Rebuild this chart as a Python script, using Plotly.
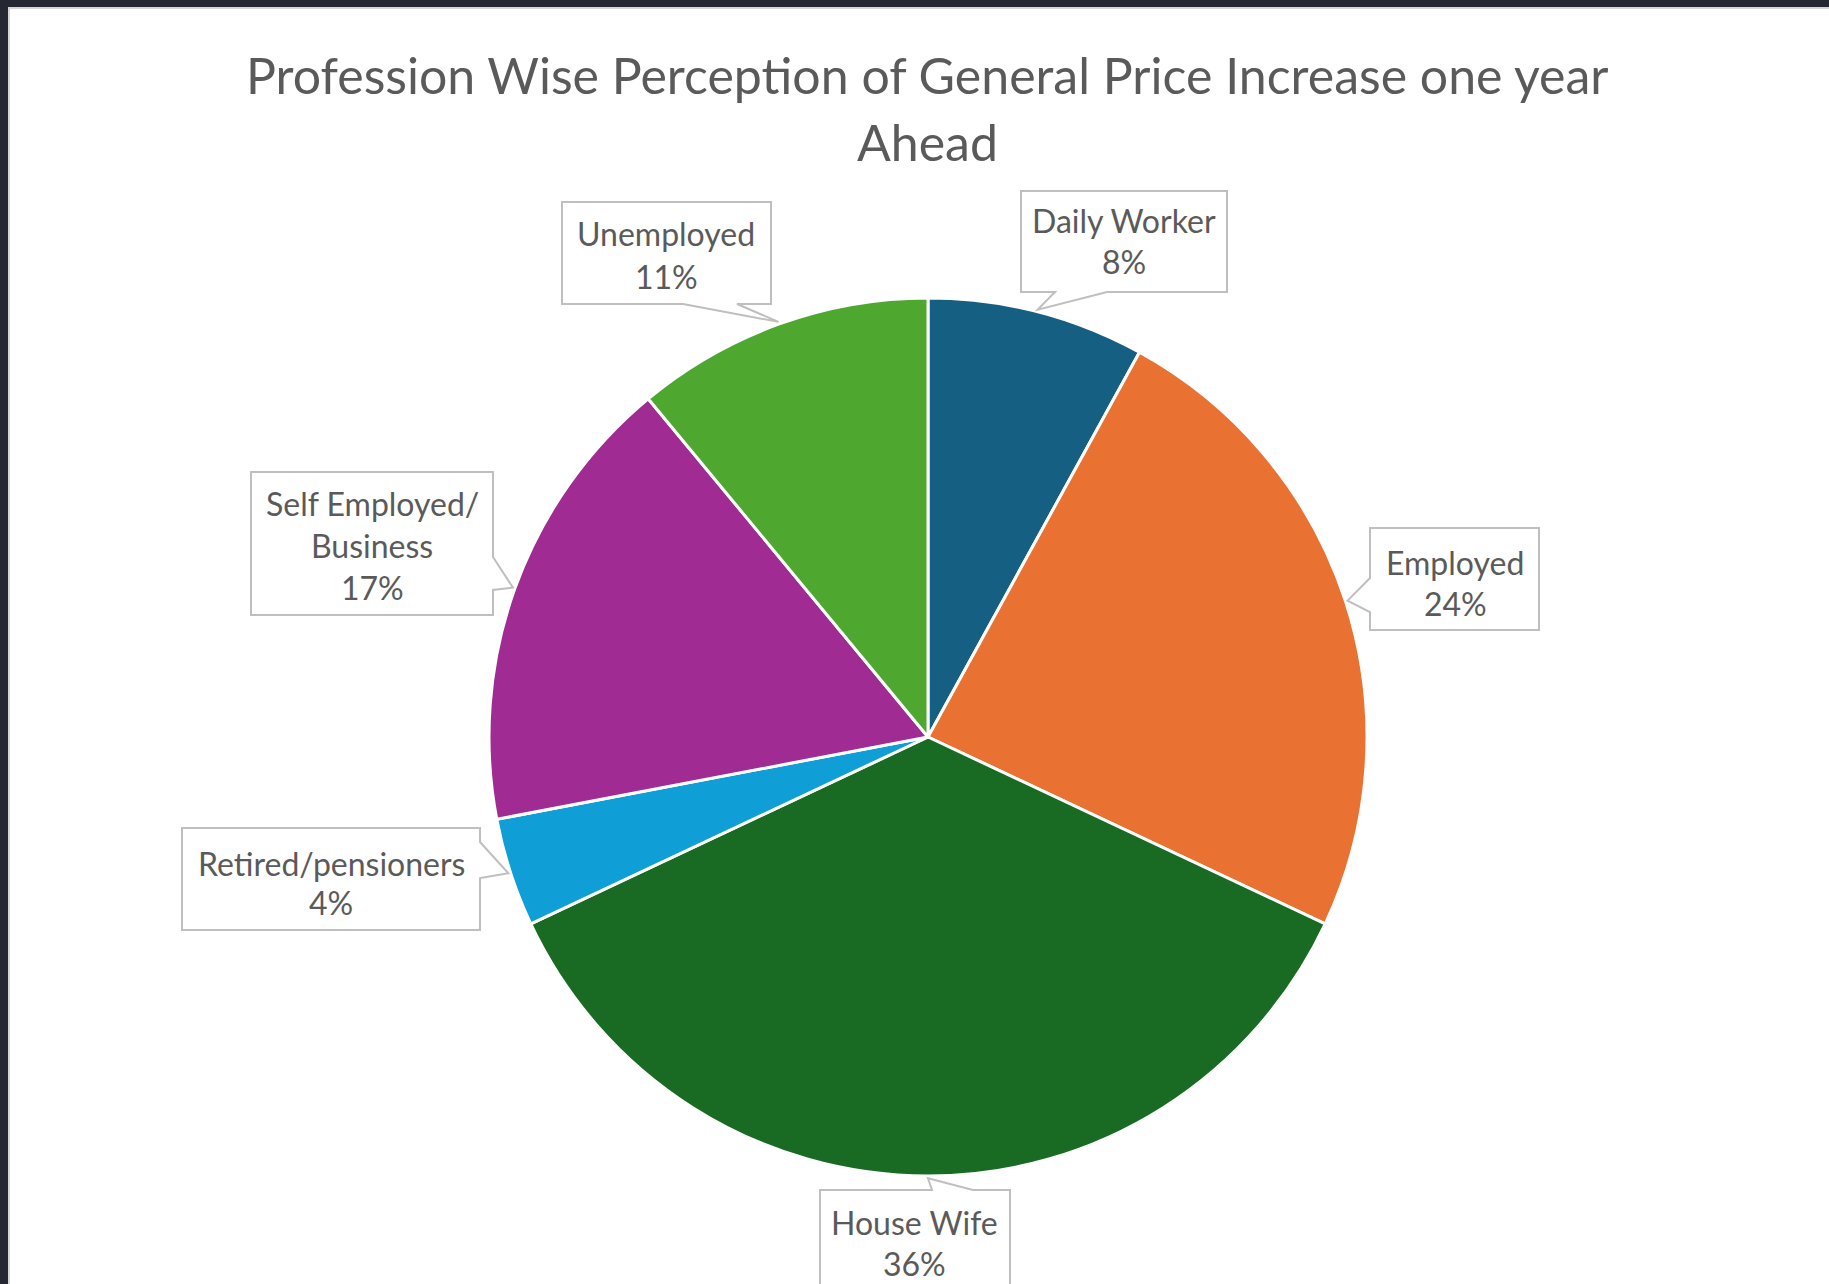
import math
import plotly.graph_objects as go

# ---- data -------------------------------------------------------------
professions = ["Daily Worker", "Employed", "House Wife",
               "Retired/pensioners", "Self Employed/ Business", "Unemployed"]
shares = [8, 24, 36, 4, 17, 11]
label_lines = [["Daily Worker"], ["Employed"], ["House Wife"],
               ["Retired/pensioners"], ["Self Employed/", "Business"], ["Unemployed"]]
slice_colors = ["#156082", "#E97132", "#196B24", "#0F9ED5", "#A02B93", "#4EA72E"]
title_lines = ["Profession Wise Perception of General Price Increase one year", "Ahead"]

# ---- canvas geometry (pixels) ----------------------------------------
W, H = 1829, 1284
CX, CY, R = 928, 737, 439
TEXT = "#5a5a5a"
FONT = "Lato"


def px(x):
    return x / W


def py(y):
    return 1 - y / H


fig = go.Figure()
fig.add_trace(go.Pie(
    labels=professions,
    values=shares,
    sort=False,
    direction="clockwise",
    rotation=0,
    textinfo="none",
    marker=dict(colors=slice_colors, line=dict(color="white", width=3)),
    domain=dict(x=[px(CX - R), px(CX + R)], y=[py(CY + R), py(CY - R)]),
    showlegend=False,
))

shapes = [
    # white card on the dark frame
    dict(type="rect", xref="paper", yref="paper", layer="below",
         x0=px(9), x1=px(W + 5), y0=py(H + 5), y1=py(8),
         fillcolor="white", line=dict(color="#d6d6d6", width=2)),
]

# callout boxes: (x0, y0, x1, y1, side, base_a, base_b)
boxes = [
    (1021, 191, 1227, 292, "bottom", 1055, 1107),
    (1370, 528, 1539, 630, "left", 578, 612),
    (820, 1190, 1010, 1310, "top", 932, 973),
    (182, 828, 480, 930, "right", 842, 878),
    (251, 472, 493, 615, "right", 557, 590),
    (562, 202, 771, 304, "bottom", 683, 737),
]
text_pos = [
    (1124, [220, 262]),
    (1455, [562, 603]),
    (915, [1222, 1263]),
    (331, [863, 902]),
    (372, [503, 545, 588]),
    (666, [234, 276]),
]

total = sum(shares)
cum = 0
annotations = []
for i, v in enumerate(shares):
    mid = (cum + v / 2) / total * 2 * math.pi
    cum += v
    tx = CX + R * 1.005 * math.sin(mid)
    ty = CY - R * 1.005 * math.cos(mid)
    x0, y0, x1, y1, side, a, b = boxes[i]
    if side == "bottom":
        pts = [(x0, y0), (x1, y0), (x1, y1), (b, y1), (tx, ty), (a, y1), (x0, y1)]
    elif side == "top":
        pts = [(x0, y0), (a, y0), (tx, ty), (b, y0), (x1, y0), (x1, y1), (x0, y1)]
    elif side == "left":
        pts = [(x0, y0), (x1, y0), (x1, y1), (x0, y1), (x0, b), (tx, ty), (x0, a)]
    else:  # right
        pts = [(x0, y0), (x1, y0), (x1, a), (tx, ty), (x1, b), (x1, y1), (x0, y1)]
    path = "M " + " L ".join(f"{px(x):.5f},{py(y):.5f}" for x, y in pts) + " Z"
    shapes.append(dict(type="path", xref="paper", yref="paper", path=path,
                       fillcolor="white", line=dict(color="#bfbfbf", width=2)))

    lines = label_lines[i] + [f"{v}%"]
    cx_t, ys = text_pos[i]
    for line, yy in zip(lines, ys):
        annotations.append(dict(
            x=px(cx_t), y=py(yy), xref="paper", yref="paper",
            text=line, showarrow=False, xanchor="center", yanchor="middle",
            font=dict(family=FONT, size=32, color=TEXT)))

for line, yy in zip(title_lines, [75, 142]):
    annotations.append(dict(
        x=px(927), y=py(yy), xref="paper", yref="paper",
        text=line, showarrow=False, xanchor="center", yanchor="middle",
        font=dict(family=FONT, size=50, color=TEXT)))

fig.update_layout(
    width=W, height=H,
    margin=dict(l=0, r=0, t=0, b=0),
    paper_bgcolor="#252833",
    plot_bgcolor="white",
    shapes=shapes,
    annotations=annotations,
)

fig.write_html("out.html")
